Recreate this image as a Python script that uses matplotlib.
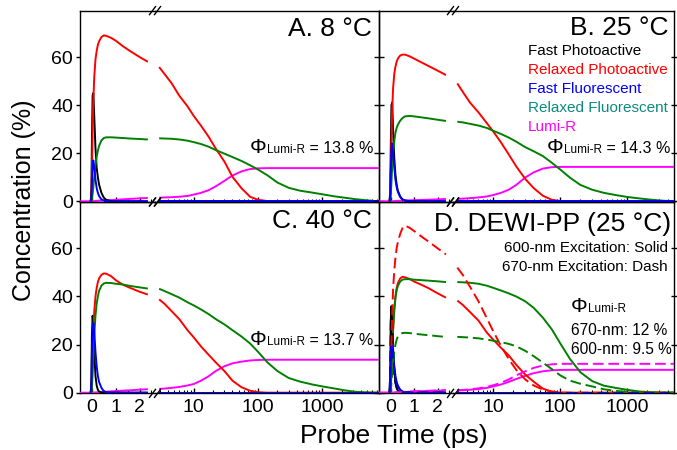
import numpy as np
import matplotlib
matplotlib.use("Agg")
import matplotlib.pyplot as plt
from matplotlib.offsetbox import TextArea, HPacker, AnchoredOffsetbox
from matplotlib.ticker import FixedLocator, LogLocator, NullFormatter, FixedFormatter
from matplotlib.lines import Line2D

plt.rcParams['font.family'] = ['Liberation Sans', 'DejaVu Sans']

N = None
# ---------------- time grids (ps) ----------------
t_lin = [-0.5, -0.2, -0.1, -0.05, -0.02, 0.0, 0.03, 0.06, 0.1, 0.15, 0.2, 0.25, 0.3,
         0.4, 0.5, 0.6, 0.8, 1.0, 1.3, 1.6, 2.0, 2.35]
t_log = [2.9, 3.5, 4.5, 6, 8, 10, 13, 17, 22, 30, 40, 55, 75, 100, 140, 200, 300, 450,
         700, 1000, 1500, 2200, 3200, 4500, 6000, 7500]
zeros_log = [0] * 26

# ---------------- Panel A (8 C) ----------------
fastP_A_lin = [N, N, N, 0, 5, 25, 44, 45, 35, 22, 14, 10, 7, 3.5, 1.5, 0.6, 0.1, 0, 0, 0, 0, 0]
fastF_A_lin = [N, N, N, 0, 2, 8, 15, 17, 14, 9, 5.5, 3.5, 2.2, 0.8, 0.3, 0.1, 0, 0, 0, 0, 0, 0]
relP_A_lin = [N, N, N, 0, 3, 12, 30, 42, 52, 59, 62.5, 65, 66.5, 68.3, 69, 68.8, 68, 66.8, 64.5, 62.5, 60, 58]
relF_A_lin = [N, N, N, 0, 0, 1, 3, 6, 10, 15, 18.5, 21, 23, 25.3, 26.3, 26.6, 26.6, 26.5, 26.3, 26.1, 25.9, 25.7]
lumi_A_lin = [0, 0, 0, 0, 0, 0, 0.02, 0.05, 0.08, 0.12, 0.15, 0.2, 0.25, 0.3, 0.35, 0.4, 0.5, 0.6, 0.8, 1.0, 1.2, 1.4]
relP_A_log = [55.8, 53, 49.2, 43.8, 39.5, 35.5, 31.4, 26.9, 21.9, 16.5, 10.2, 5.5, 1.9, 0.6, 0.1,
              0, 0, 0, 0, 0, 0, 0, 0, 0, 0, 0]
relF_A_log = [26.2, 26.1, 26, 25.7, 25.2, 24.6, 23.8, 22.7, 21.3, 19.8, 18.4, 16.8, 15, 13.2, 10.8,
              7.8, 5.6, 4.4, 3.6, 2.9, 2.1, 1.5, 0.9, 0.5, 0.2, 0]
lumi_A_log = [1.5, 1.6, 1.7, 1.9, 2.2, 2.8, 3.5, 4.6, 6.2, 8.5, 10.7, 12.4, 13.4, 13.7, 13.8,
              13.8, 13.8, 13.8, 13.8, 13.8, 13.8, 13.8, 13.8, 13.8, 13.8, 13.8]

# ---------------- Panel B (25 C) ----------------
fastP_B_lin = [N, N, N, 0, 5, 22, 40, 41, 30, 18, 11, 7, 4.5, 2, 0.8, 0.3, 0.05, 0, 0, 0, 0, 0]
fastF_B_lin = [N, N, N, 0, 3, 12, 21, 24, 20, 14, 9, 6, 4, 1.8, 0.7, 0.3, 0.05, 0, 0, 0, 0, 0]
relP_B_lin = [N, N, N, 0, 2, 10, 25, 38, 47, 53, 56, 58, 59.3, 60.6, 61, 61, 60.3, 59.3, 57.8, 56.3, 54.3, 52.5]
relF_B_lin = [N, N, N, 0, 0, 2, 8, 14, 20, 25, 28.5, 30.5, 31.8, 33.5, 34.6, 35.3, 35.5, 35.3, 34.9, 34.5, 33.9, 33.4]
lumi_B_lin = [0, 0, 0, 0, 0, 0, 0.02, 0.04, 0.06, 0.08, 0.1, 0.13, 0.16, 0.2, 0.25, 0.3, 0.4, 0.45, 0.55, 0.65, 0.8, 0.95]
relP_B_log = [49, 45.5, 41, 37, 32.5, 29, 24.5, 19.5, 14.5, 9.3, 5.5, 2.3, 0.6, 0.1,
              0, 0, 0, 0, 0, 0, 0, 0, 0, 0, 0, 0]
relF_B_log = [33.1, 32.8, 32.2, 31.5, 30.5, 29.3, 28, 26.5, 24.8, 22.5, 20.8, 18.8, 16, 13.2, 9.8,
              6.8, 4.8, 3.5, 2.5, 1.8, 1.2, 0.7, 0.3, 0.05, 0, 0]
lumi_B_log = [1.0, 1.1, 1.3, 1.6, 2.0, 2.6, 3.5, 4.8, 6.8, 9.9, 12.0, 13.6, 14.2, 14.3,
              14.3, 14.3, 14.3, 14.3, 14.3, 14.3, 14.3, 14.3, 14.3, 14.3, 14.3, 14.3]

# ---------------- Panel C (40 C) ----------------
fastP_C_lin = [N, N, N, 0, 6, 24, 32, 28, 16, 7, 3, 1.2, 0.5, 0.1, 0, 0, 0, 0, 0, 0, 0, 0]
fastF_C_lin = [N, N, N, 0, 4, 16, 26, 29, 25, 17, 11, 7, 4.5, 2, 0.6, 0.2, 0, 0, 0, 0, 0, 0]
relP_C_lin = [N, N, N, 0, 2, 7, 17, 26, 34, 40, 43.5, 46, 47.5, 49, 49.6, 49.5, 48.5, 46.8, 44.9, 43.6, 42, 40.8]
relF_C_lin = [N, N, N, 0, 0, 2, 8, 15, 24, 32, 37, 40, 42.3, 44.5, 45.4, 45.7, 45.6, 45.3, 45.0, 44.4, 43.8, 43.3]
lumi_C_lin = [0, 0, 0, 0, 0, 0, 0.03, 0.05, 0.08, 0.12, 0.16, 0.2, 0.25, 0.3, 0.35, 0.42, 0.55, 0.65, 0.85, 1.0, 1.25, 1.45]
relP_C_log = [38.8, 37, 34, 30.5, 26, 23, 19.2, 15.8, 12.6, 9, 5, 2.3, 0.8, 0.2,
              0, 0, 0, 0, 0, 0, 0, 0, 0, 0, 0, 0]
relF_C_log = [43.2, 42.3, 41, 39.5, 37.6, 36.3, 34.6, 32.7, 30.6, 28.4, 26, 23.4, 20.5, 17, 12.6,
              9, 6.1, 4.6, 3.4, 2.6, 1.8, 1.0, 0.4, 0.15, 0.05, 0]
lumi_C_log = [1.6, 1.7, 2.0, 2.4, 3.0, 3.6, 5.0, 6.8, 9.0, 11.0, 12.2, 12.9, 13.4, 13.6, 13.7,
              13.7, 13.7, 13.7, 13.7, 13.7, 13.7, 13.7, 13.7, 13.7, 13.7, 13.7]

# ---------------- Panel D (DEWI-PP, 25 C): 600-nm solid ----------------
fastP_D_lin = [N, N, N, 0, 8, 30, 36, 30, 18, 9, 4.5, 2.2, 1, 0.3, 0.1, 0, 0, 0, 0, 0, 0, 0]
fastF_D_lin = [N, N, N, 0, 4, 14, 21, 22, 17, 11, 7, 4.5, 3, 1.3, 0.5, 0.2, 0, 0, 0, 0, 0, 0]
relP_D_lin = [N, N, N, 0, 1, 4, 10, 18, 27, 35, 40, 43.5, 45.5, 47.5, 48.2, 48, 47.3, 46.2, 44.9, 43.5, 41.3, 39.5]
relF_D_lin = [N, N, N, 0, 0, 2, 8, 16, 26, 34, 39.5, 42.5, 44.3, 46.2, 47, 47.2, 47.2, 47, 46.8, 46.6, 46.3, 46]
lumi_D_lin = [0, 0, 0, 0, 0, 0, 0.02, 0.04, 0.06, 0.08, 0.1, 0.12, 0.15, 0.2, 0.25, 0.3, 0.4, 0.5, 0.6, 0.7, 0.8, 0.9]
relP_D_log = [38.3, 36.5, 33.5, 30, 25, 22, 18.7, 15.5, 11.6, 7.5, 4.6, 1.7, 0.3,
              0, 0, 0, 0, 0, 0, 0, 0, 0, 0, 0, 0, 0]
relF_D_log = [46, 45.9, 45.7, 45.3, 44.5, 43.6, 42.5, 41.3, 40, 38, 35.3, 31.2, 26.3, 20.5, 14,
              8.5, 4.8, 2.9, 1.9, 1.2, 0.5, 0.2, 0.05, 0, 0, 0]
lumi_D_log = [0.9, 1.0, 1.2, 1.5, 2.0, 2.6, 3.4, 4.5, 5.7, 7.0, 8.1, 8.9, 9.3, 9.45, 9.5,
              9.5, 9.5, 9.5, 9.5, 9.5, 9.5, 9.5, 9.5, 9.5, 9.5, 9.5]

# ---------------- Panel D: 670-nm dashed ----------------
fastP_Dd_lin = [N, N, N, 0, 10, 28, 35, 28, 17, 8, 4, 2, 0.9, 0.3, 0.1, 0, 0, 0, 0, 0, 0, 0]
fastF_Dd_lin = [N, N, N, 0, 3, 12, 18, 19, 15, 10, 6, 4, 2.6, 1.1, 0.4, 0.1, 0, 0, 0, 0, 0, 0]
relP_Dd_lin = [N, N, N, 0, 2, 8, 20, 32, 43, 51, 56, 60, 62.5, 66, 68.5, 69.5, 68.6, 67.2, 65, 62.9, 60, 57.5]
relF_Dd_lin = [N, N, N, 0, 0, 1, 4, 8, 13, 17, 20, 22, 23.3, 24.4, 24.8, 24.9, 24.8, 24.5, 24.2, 23.9, 23.5, 23.2]
lumi_Dd_lin = [0, 0, 0, 0, 0, 0, 0.02, 0.04, 0.06, 0.09, 0.12, 0.15, 0.18, 0.23, 0.28, 0.34, 0.45, 0.55, 0.68, 0.8, 0.95, 1.05]
relP_Dd_log = [52, 49, 44, 38, 31, 25.5, 19.5, 14, 9.5, 5.5, 3, 1.3, 0.5, 0.1,
               0, 0, 0, 0, 0, 0, 0, 0, 0, 0, 0, 0]
relF_Dd_log = [23.2, 23.1, 22.9, 22.6, 22.1, 21.6, 21, 20.3, 19.3, 17.4, 15.2, 12.5, 9.8, 7.2, 5.0,
               3.7, 2.6, 1.4, 0.7, 0.3, 0.1, 0, 0, 0, 0, 0]
lumi_Dd_log = [1.0, 1.1, 1.4, 1.8, 2.4, 3.1, 4.1, 5.5, 7.2, 8.9, 10.3, 11.3, 11.8, 12,
               12, 12, 12, 12, 12, 12, 12, 12, 12, 12, 12, 12]

legend_labels = ["Fast Photoactive", "Relaxed Photoactive", "Fast Fluorescent",
                 "Relaxed Fluorescent", "Lumi-R"]
legend_colors = ["black", "#ff0000", "#0000ff", "#0a8a80", "#ff00ff"]

C_FP, C_RP, C_FF, C_RF, C_LU = "black", "#ff0000", "#0000ff", "#008000", "#ff00ff"

# ---------------- figure layout (pixel based) ----------------
W, H = 677, 450
fig = plt.figure(figsize=(W / 100, H / 100), dpi=100)


def rect(x0, x1, ytop, ybot):
    return [x0 / W, 1 - ybot / H, (x1 - x0) / W, (ybot - ytop) / H]


def fx(x):
    return x / W


def fy(y):
    return 1 - y / H


COLS = {'L': dict(x0=80, xb=155, x1=379, loglim=(2.5, 7600)),
        'R': dict(x0=379, xb=453, x1=674, loglim=(2.5, 5000))}
ROWS = {'T': (10.6, 202.0), 'B': (202.0, 393.4)}
YLIM = (-0.3, 79.3)
LW = 1.4
TICKFS = 14


def make_panel(col, row):
    c = COLS[col]
    ytop, ybot = ROWS[row]
    axl = fig.add_axes(rect(c['x0'], c['xb'], ytop, ybot))
    axr = fig.add_axes(rect(c['xb'], c['x1'], ytop, ybot))
    axl.set_xlim(-0.5, 2.65)
    axr.set_xscale('log')
    axr.set_xlim(*c['loglim'])
    for ax in (axl, axr):
        ax.set_ylim(*YLIM)
        ax.patch.set_alpha(0)
        for s in ax.spines.values():
            s.set_linewidth(1.0)
    axl.spines['right'].set_visible(False)
    axr.spines['left'].set_visible(False)

    # x ticks
    axl.xaxis.set_major_locator(FixedLocator([0, 1, 2]))
    axl.xaxis.set_minor_locator(FixedLocator([0.5, 1.5, 2.5]))
    axr.xaxis.set_major_locator(FixedLocator([10, 100, 1000]))
    axr.xaxis.set_minor_locator(LogLocator(base=10, subs=np.arange(2, 10), numticks=20))
    axr.xaxis.set_minor_formatter(NullFormatter())
    showx = (row == 'B')
    for ax in (axl, axr):
        ax.tick_params(axis='x', which='major', direction='in', length=3.5, width=1.0,
                       top=False, labelbottom=showx, labelsize=TICKFS, pad=4)
        ax.tick_params(axis='x', which='minor', direction='in', length=2.0, width=0.8, top=False)
    if showx:
        axl.set_xticklabels(['0', '1', '2'])
        axr.set_xticklabels(['10', '100', '1000'])

    # y ticks
    axl.yaxis.set_major_locator(FixedLocator([0, 20, 40, 60]))
    axr.yaxis.set_major_locator(FixedLocator([0, 20, 40, 60]))
    axr.tick_params(axis='y', which='both', left=False, labelleft=False)
    if col == 'L':
        axl.tick_params(axis='y', direction='out', length=3.0, width=1.0,
                        labelsize=TICKFS, pad=2)
        axr.tick_params(axis='y', right=False)
    else:
        axl.tick_params(axis='y', direction='inout', length=7.0, width=1.0, labelleft=False)
        axr.tick_params(axis='y', right=True, direction='inout', length=4.5, width=1.0,
                        labelright=False)
    return axl, axr


def draw(axl, axr, lin_series, log_series, ls='-'):
    for (vals, col), (lvals, _) in zip(lin_series, log_series):
        y = np.array([np.nan if v is None else v for v in vals], dtype=float)
        kw = dict(color=col, lw=LW, zorder=3, solid_capstyle='butt')
        if ls == '--':
            kw.update(linestyle=(0, (5.5, 2.5)))
        axl.plot(t_lin, y, **kw)
        axr.plot(t_log, np.array(lvals, dtype=float), **kw)


def break_marks(col, row):
    c = COLS[col]
    ytop, ybot = ROWS[row]
    xb = c['xb']
    for ys in (ytop, ybot):
        for dx in (-2.5, 2.5):
            x0, y0 = xb + dx - 3, ys + 4
            x1, y1 = xb + dx + 3, ys - 4
            fig.add_artist(Line2D([fx(x0), fx(x1)], [fy(y0), fy(y1)], color='black',
                                  lw=1.0, transform=fig.transFigure, zorder=10))


panels = {}
for col in 'LR':
    for row in 'TB':
        panels[(col, row)] = make_panel(col, row)

# Panel A
axl, axr = panels[('L', 'T')]
draw(axl, axr,
     [(lumi_A_lin, C_LU), (fastP_A_lin, C_FP), (relP_A_lin, C_RP), (relF_A_lin, C_RF), (fastF_A_lin, C_FF)],
     [(lumi_A_log, C_LU), (zeros_log, C_FP), (relP_A_log, C_RP), (relF_A_log, C_RF), (zeros_log, C_FF)])
# Panel B
axl, axr = panels[('R', 'T')]
draw(axl, axr,
     [(lumi_B_lin, C_LU), (fastP_B_lin, C_FP), (relP_B_lin, C_RP), (relF_B_lin, C_RF), (fastF_B_lin, C_FF)],
     [(lumi_B_log, C_LU), (zeros_log, C_FP), (relP_B_log, C_RP), (relF_B_log, C_RF), (zeros_log, C_FF)])
# Panel C
axl, axr = panels[('L', 'B')]
draw(axl, axr,
     [(lumi_C_lin, C_LU), (fastP_C_lin, C_FP), (relP_C_lin, C_RP), (relF_C_lin, C_RF), (fastF_C_lin, C_FF)],
     [(lumi_C_log, C_LU), (zeros_log, C_FP), (relP_C_log, C_RP), (relF_C_log, C_RF), (zeros_log, C_FF)])
# Panel D
axl, axr = panels[('R', 'B')]
draw(axl, axr,
     [(lumi_D_lin, C_LU), (fastP_D_lin, C_FP), (relP_D_lin, C_RP), (relF_D_lin, C_RF), (fastF_D_lin, C_FF)],
     [(lumi_D_log, C_LU), (zeros_log, C_FP), (relP_D_log, C_RP), (relF_D_log, C_RF), (zeros_log, C_FF)])
draw(axl, axr,
     [(lumi_Dd_lin, C_LU), (fastP_Dd_lin, C_FP), (relP_Dd_lin, C_RP), (relF_Dd_lin, C_RF), (fastF_Dd_lin, C_FF)],
     [(lumi_Dd_log, C_LU), (zeros_log, C_FP), (relP_Dd_log, C_RP), (relF_Dd_log, C_RF), (zeros_log, C_FF)],
     ls='--')

for col in 'LR':
    for row in 'TB':
        break_marks(col, row)

# ---------------- texts ----------------
TFS = 19
fig.text(fx(372), fy(36), "A. 8 °C", fontsize=TFS, ha='right', va='baseline')
fig.text(fx(668), fy(35), "B. 25 °C", fontsize=TFS, ha='right', va='baseline')
fig.text(fx(372), fy(228), "C. 40 °C", fontsize=TFS, ha='right', va='baseline')
fig.text(fx(671), fy(231), "D. DEWI-PP (25 °C)", fontsize=TFS, ha='right', va='baseline')

for i, (lab, colr) in enumerate(zip(legend_labels, legend_colors)):
    fig.text(fx(528), fy(55 + 19 * i), lab, fontsize=11, color=colr, ha='left', va='baseline')

fig.text(fx(668), fy(252), "600-nm Excitation: Solid", fontsize=11, ha='right', va='baseline')
fig.text(fx(668), fy(271), "670-nm Excitation: Dash", fontsize=11, ha='right', va='baseline')


def phi_label(x_right, y_base, rest, anchor='lower right'):
    box = HPacker(children=[TextArea("Φ", textprops=dict(fontsize=15)),
                            TextArea("Lumi-R", textprops=dict(fontsize=8.5)),
                            TextArea(rest, textprops=dict(fontsize=11.5))],
                  align="baseline", pad=0, sep=0)
    ab = AnchoredOffsetbox(loc=anchor, child=box, frameon=False, pad=0, borderpad=0,
                           bbox_to_anchor=(fx(x_right), fy(y_base)),
                           bbox_transform=fig.transFigure)
    fig.add_artist(ab)


phi_label(373, 157, " = 13.8 %")
phi_label(670, 157, " = 14.3 %")
phi_label(373, 349, " = 13.7 %")
phi_label(571, 316, "", anchor='lower left')
fig.text(fx(571), fy(335), "670-nm: 12 %", fontsize=11.2, ha='left', va='baseline')
fig.text(fx(571), fy(354), "600-nm: 9.5 %", fontsize=11.2, ha='left', va='baseline')

fig.text(fx(24), fy(200), "Concentration (%)", fontsize=18, rotation=90, ha='center', va='center')
fig.text(fx(394), fy(443), "Probe Time (ps)", fontsize=19, ha='center', va='baseline')

fig.savefig("out.png", dpi=100)
